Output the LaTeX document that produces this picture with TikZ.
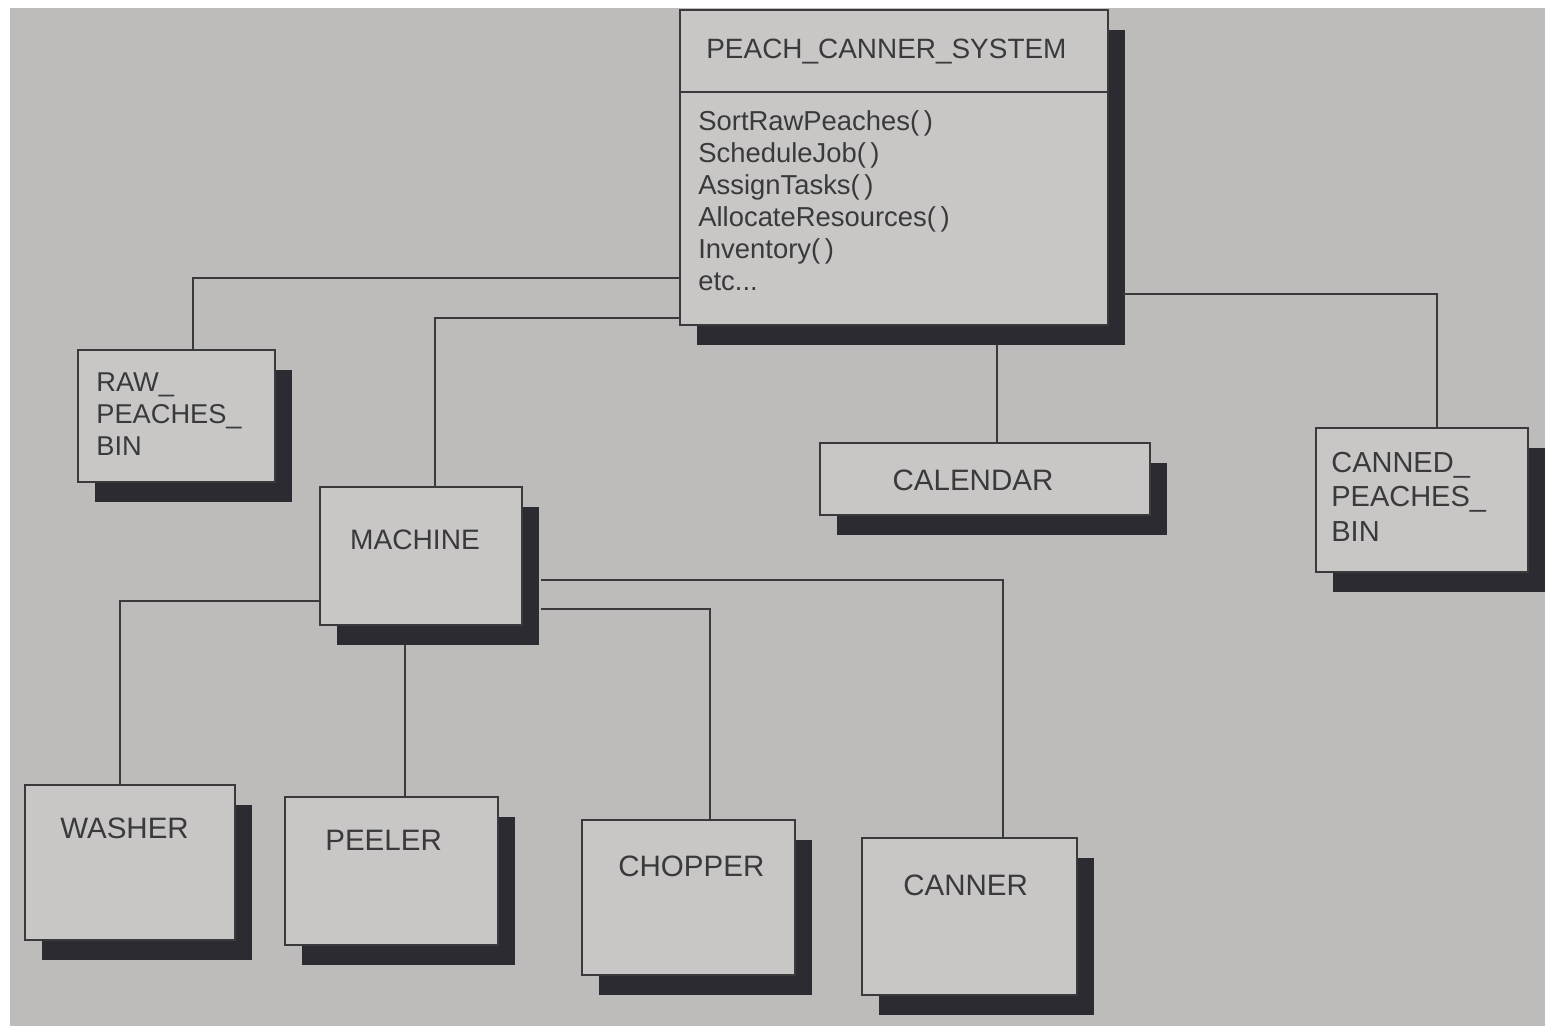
\documentclass[tikz,border=0pt]{standalone}
\usepackage{fontspec}
\setmainfont{Liberation Sans}
\setsansfont{Liberation Sans}
\usetikzlibrary{fit,shadows}
\definecolor{pagebg}{HTML}{BDBCBA}
\definecolor{boxfill}{HTML}{C8C7C5}
\definecolor{shadowc}{HTML}{2C2B31}
\definecolor{inkc}{HTML}{3A3A3C}
\begin{document}
\begin{tikzpicture}[x=0.02cm,y=-0.02cm,
  classbox/.style={draw=inkc, line width=0.9pt, fill=boxfill, inner sep=0pt,
    drop shadow={shadow xshift=0.34cm, shadow yshift=-0.40cm, fill=shadowc, opacity=1}},
  conn/.style={draw=inkc, line width=0.9pt},
  lbl/.style={text=inkc, inner sep=0pt, font=\fontsize{16.8}{19}\selectfont},
  mlbl/.style={text=inkc, inner sep=0pt, align=left, font=\fontsize{15.6}{18.2}\selectfont}]
% page
\useasboundingbox (0,0) rectangle (1545,1025);
\fill[white] (-10,-10) rectangle (1560,1040);
\fill[pagebg] (10,8) rectangle (1560,1040);

% boxes
\node[classbox, fit={(680,10) (1108,325)}] (sys) {};
\node[classbox, fit={(78,350) (275,482)}] (raw) {};
\node[classbox, fit={(320,487) (522,625)}] (mach) {};
\node[classbox, fit={(820,443) (1150,515)}] (cal) {};
\node[classbox, fit={(1316,428) (1528,572)}] (can) {};
\node[classbox, fit={(25,785) (235,940)}] (wash) {};
\node[classbox, fit={(285,797) (498,945)}] (peel) {};
\node[classbox, fit={(582,820) (795,975)}] (chop) {};
\node[classbox, fit={(862,838) (1077,995)}] (cann) {};

% divider in system box
\coordinate (div) at (0,92);
\draw[conn] (sys.west |- div) -- (sys.east |- div);

% labels
\node[lbl, anchor=base west, font=\fontsize{15.9}{19}\selectfont] (sysT) at (706,58) {PEACH\_CANNER\_SYSTEM};
\node[mlbl, anchor=north west] (sysM) at (698,110) {SortRawPeaches(\,)\\ScheduleJob(\,)\\AssignTasks(\,)\\AllocateResources(\,)\\Inventory(\,)\\etc...};
\node[lbl, anchor=north west, align=left, font=\fontsize{15.5}{18.2}\selectfont] (rawT) at (96,372) {RAW\_\\PEACHES\_\\BIN};
\node[lbl, font=\fontsize{16}{19}\selectfont] (machT) at (415,540) {MACHINE};
\node[lbl, font=\fontsize{16.8}{19}\selectfont] (calT) at (973,480) {CALENDAR};
\node[lbl, anchor=north west, align=left, font=\fontsize{16.5}{19.5}\selectfont] (canT) at (1331,452) {CANNED\_\\PEACHES\_\\BIN};
\node[lbl, anchor=west] (washT) at (60,828) {WASHER};
\node[lbl, anchor=west] (peelT) at (325,840) {PEELER};
\node[lbl, anchor=west] (chopT) at (618,866) {CHOPPER};
\node[lbl, anchor=west] (cannT) at (903,885) {CANNER};

% connector corner points
\coordinate (c1) at (193,278);
\coordinate (c2) at (435,318);
\coordinate (c3) at (997,0);
\coordinate (c4) at (1437,294);
\coordinate (c5) at (120,601);
\coordinate (c6) at (405,0);
\coordinate (c7) at (710,609);
\coordinate (c8) at (1003,580);

% connectors
\draw[conn] (sys.west |- c1) -| (c1 |- raw.north);
\draw[conn] (sys.west |- c2) -| (c2 |- mach.north);
\draw[conn] (c3 |- sys.south) ++(0,18) -- (c3 |- cal.north);
\draw[conn] (sys.east |- c4) ++(14,0) -| (c4 |- can.north);
\draw[conn] (mach.west |- c5) -| (c5 |- wash.north);
\draw[conn] (c6 |- mach.south) ++(0,18) -- (c6 |- peel.north);
\draw[conn] (mach.east |- c7) ++(18,0) -| (c7 |- chop.north);
\draw[conn] (mach.east |- c8) ++(18,0) -| (c8 |- cann.north);
\end{tikzpicture}
\end{document}
